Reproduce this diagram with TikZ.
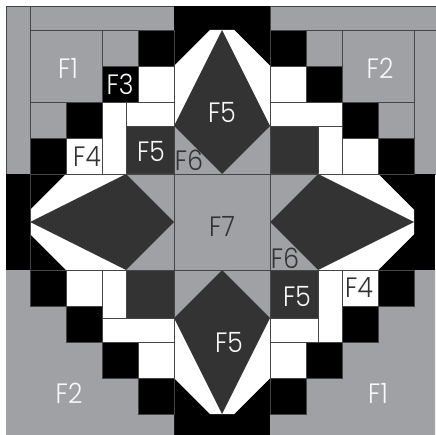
\documentclass[tikz,border=0pt]{standalone}
\usepackage{fontspec}
\setmainfont{Poppins}[UprightFont=* Light]
\definecolor{qgray}{HTML}{A0A1A5}
\definecolor{qdark}{HTML}{333333}
\definecolor{qline}{HTML}{454545}
\tikzset{
  cell/.style={draw=qline,line width=0.8pt,line join=miter},
  graycell/.style={cell,fill=qgray},
  blackcell/.style={cell,fill=black},
  whitecell/.style={cell,fill=white},
  darkcell/.style={cell,fill=qdark},
  lab/.style={inner sep=0pt,yscale=1.12,font=\fontsize{25}{25}\selectfont},
  lablight/.style={lab,text=white!92!qgray},
  labdark/.style={lab,text=qdark},
}
\begin{document}
\begin{tikzpicture}[x=1pt,y=-1pt]
\useasboundingbox (0,0) rectangle (435,435);
% frame strips
\draw[graycell] (6,6.5) rectangle (30,174);
\draw[graycell] (30,6.5) rectangle (174,30);
\draw[graycell] (270,6.5) rectangle (436,30);
\draw[graycell] (414,30) rectangle (436,174);
\fill[black] (174,6.5) rectangle (270,30);
\fill[black] (6,174) rectangle (30,270);
\fill[black] (414,174) rectangle (435,270);
\fill[black] (174,414) rectangle (270,435);
% bottom large grey areas
\fill[qgray] (6,270) -- (30,270) -- (30,306) -- (66,306) -- (66,342) -- (102,342) -- (102,378) -- (138,378) -- (138,414) -- (174,414) -- (174,435) -- (6,435) -- cycle;
\fill[qgray] (435,270) -- (414,270) -- (414,306) -- (378,306) -- (378,342) -- (342,342) -- (342,378) -- (306,378) -- (306,414) -- (270,414) -- (270,435) -- (435,435) -- cycle;
% top left block
\draw[graycell] (30,30) rectangle (102,102);
\draw[graycell] (102,30) rectangle (138,66);
\draw[blackcell] (138,30) rectangle (174,66);
\draw[blackcell] (102,66) rectangle (138,102);
\draw[whitecell] (138,66) rectangle (174,102);
\draw[graycell] (30,102) rectangle (66,138);
\draw[blackcell] (66,102) rectangle (102,138);
\draw[blackcell] (30,138) rectangle (66,174);
\draw[whitecell] (66,138) rectangle (102,174);
\draw[whitecell] (102,102) rectangle (126,174);
\draw[whitecell] (126,102) rectangle (174,126);
\draw[darkcell] (126,126) rectangle (174,174);
% top right block
\draw[graycell] (342,30) rectangle (414,102);
\draw[graycell] (306,30) rectangle (342,66);
\draw[blackcell] (270,30) rectangle (306,66);
\draw[whitecell] (270,66) rectangle (306,102);
\draw[blackcell] (306,66) rectangle (342,102);
\draw[whitecell] (270,102) rectangle (342,126);
\draw[darkcell] (270,126) rectangle (318,174);
\draw[whitecell] (318,126) rectangle (342,174);
\draw[blackcell] (342,102) rectangle (378,138);
\draw[graycell] (378,102) rectangle (414,138);
\draw[whitecell] (342,138) rectangle (378,174);
\draw[blackcell] (378,138) rectangle (414,174);
% bottom left block
\draw[blackcell] (30,270) rectangle (66,306);
\draw[whitecell] (66,270) rectangle (102,306);
\draw[whitecell] (102,270) rectangle (126,318);
\draw[darkcell] (126,270) rectangle (174,318);
\draw[blackcell] (66,306) rectangle (102,342);
\draw[whitecell] (102,318) rectangle (174,342);
\draw[blackcell] (102,342) rectangle (138,378);
\draw[whitecell] (138,342) rectangle (174,378);
\draw[blackcell] (138,378) rectangle (174,414);
% bottom right block
\draw[darkcell] (270,270) rectangle (318,318);
\draw[whitecell] (318,270) rectangle (342,342);
\draw[whitecell] (342,270) rectangle (378,306);
\draw[blackcell] (378,270) rectangle (414,306);
\draw[blackcell] (342,306) rectangle (378,342);
\draw[whitecell] (270,318) rectangle (318,342);
\draw[whitecell] (270,342) rectangle (306,378);
\draw[blackcell] (306,342) rectangle (342,378);
\draw[blackcell] (270,378) rectangle (306,414);
% centre
\draw[graycell] (174,174) rectangle (270,270);
% top star arm
\fill[black] (174,30) -- (210,30) -- (174,66) -- cycle;
\fill[black] (270,30) -- (234,30) -- (270,66) -- cycle;
\fill[white] (174,66) -- (210,30) -- (234,30) -- (270,66) -- (270,126) -- (174,126) -- cycle;
\fill[qgray] (174,126) -- (222,174) -- (174,174) -- cycle;
\fill[qgray] (270,126) -- (222,174) -- (270,174) -- cycle;
\fill[qdark] (222,30) -- (270,126) -- (222,174) -- (174,126) -- cycle;
% bottom star arm
\fill[black] (174,414) -- (210,414) -- (174,378) -- cycle;
\fill[black] (270,414) -- (234,414) -- (270,378) -- cycle;
\fill[white] (174,378) -- (210,414) -- (234,414) -- (270,378) -- (270,318) -- (174,318) -- cycle;
\fill[qgray] (174,318) -- (222,270) -- (174,270) -- cycle;
\fill[qgray] (270,318) -- (222,270) -- (270,270) -- cycle;
\fill[qdark] (222,414) -- (270,318) -- (222,270) -- (174,318) -- cycle;
% left star arm
\fill[black] (30,174) -- (30,210) -- (66,174) -- cycle;
\fill[black] (30,270) -- (30,234) -- (66,270) -- cycle;
\fill[white] (66,174) -- (30,210) -- (30,234) -- (66,270) -- (126,270) -- (126,174) -- cycle;
\fill[qgray] (126,174) -- (174,222) -- (174,174) -- cycle;
\fill[qgray] (126,270) -- (174,222) -- (174,270) -- cycle;
\fill[qdark] (30,222) -- (126,270) -- (174,222) -- (126,174) -- cycle;
% right star arm
\fill[black] (414,174) -- (414,210) -- (378,174) -- cycle;
\fill[black] (414,270) -- (414,234) -- (378,270) -- cycle;
\fill[white] (378,174) -- (414,210) -- (414,234) -- (378,270) -- (318,270) -- (318,174) -- cycle;
\fill[qgray] (318,174) -- (270,222) -- (270,174) -- cycle;
\fill[qgray] (318,270) -- (270,222) -- (270,270) -- cycle;
\fill[qdark] (414,222) -- (318,270) -- (270,222) -- (318,174) -- cycle;
% seams
\draw[qline,line width=0.8pt] (30,174) -- (414,174);
\draw[qline,line width=0.8pt] (30,270) -- (414,270);
\draw[qline,line width=0.8pt] (174,30) -- (174,414);
\draw[qline,line width=0.8pt] (270,30) -- (270,414);
\draw[qline,line width=0.8pt] (30,174) -- (30,270);
% labels
\node[lablight] (a1) at (68,68) {F1};
\node[lablight] (a2) at (380,68) {F2};
\node[lablight] (a3) at (120,84) {F3};
\node[labdark] (a4) at (87,157) {F4};
\node[lablight] (a5) at (151,151) {F5};
\node[labdark] (a6) at (189,160) {F6};
\node[lablight] (a7) at (222,112) {F5};
\node[labdark] (a8) at (222,226) {F7};
\node[labdark] (a9) at (285,258) {F6};
\node[lablight] (a10) at (297,296) {F5};
\node[labdark] (a11) at (359,288) {F4};
\node[lablight] (a12) at (229,342) {F5};
\node[lablight] (a13) at (378,393) {F1};
\node[lablight] (a14) at (69,393) {F2};
\end{tikzpicture}
\end{document}
